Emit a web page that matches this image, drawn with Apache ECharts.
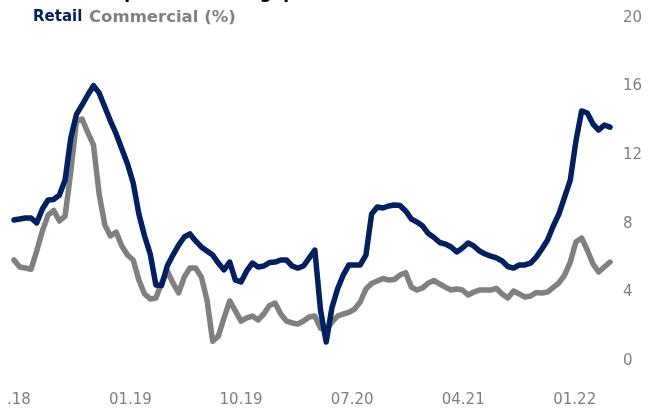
<!DOCTYPE html>
<html>
<head>
<meta charset="utf-8">
<script src="https://cdn.jsdelivr.net/npm/echarts@6/dist/echarts.min.js"></script>
<style>
  html, body { margin: 0; padding: 0; background: #ffffff; }
  #chart { width: 656px; height: 411px; }
</style>
</head>
<body>
<div id="chart"></div>
<script>
// Credit-deposit interest gap, fortnightly observations, percentage points
const titleText = 'Credit-Deposit interest gap widened';
const retailName = 'Retail';
const commercialName = 'Commercial (%)';

// first observation date and spacing between observations
const firstObservation = '2018-03-20';
const observationStepDays = 14;

const retailValues = [
  8.22, 8.28, 8.34, 8.34, 8.05, 8.86, 9.39, 9.42, 9.68, 10.55,
  13.0, 14.38, 14.93, 15.51, 16.06, 15.63, 14.81, 13.99, 13.24, 12.36,
  11.49, 10.38, 8.57, 7.29, 6.24, 4.43, 4.4, 5.54, 6.18, 6.76,
  7.23, 7.41, 7.0, 6.65, 6.41, 6.18, 5.71, 5.31, 5.77, 4.72,
  4.61, 5.25, 5.71, 5.48, 5.54, 5.74, 5.77, 5.89, 5.89, 5.54,
  5.42, 5.54, 6.0, 6.47, 2.97, 1.11, 3.09, 4.2, 5.01, 5.6,
  5.6, 5.6, 6.18, 8.57, 8.98, 8.92, 9.04, 9.1, 9.07, 8.75,
  8.28, 8.1, 7.87, 7.43, 7.2, 6.91, 6.82, 6.65, 6.36, 6.59,
  6.88, 6.71, 6.41, 6.24, 6.12, 6.01, 5.83, 5.51, 5.42, 5.6,
  5.6, 5.71, 6.06, 6.53, 7.06, 7.87, 8.57, 9.56, 10.55, 12.83,
  14.58, 14.46, 13.82, 13.47, 13.76, 13.64
];

const commercialValues = [
  5.89, 5.48, 5.42, 5.35, 6.41, 7.58, 8.51, 8.78, 8.16, 8.45,
  11.02, 13.99, 14.11, 13.32, 12.6, 9.74, 7.93, 7.29, 7.52, 6.71,
  6.18, 5.89, 4.72, 3.91, 3.62, 3.67, 4.55, 5.25, 4.55, 3.97,
  4.9, 5.42, 5.42, 4.9, 3.56, 1.15, 1.45, 2.51, 3.5, 2.92,
  2.33, 2.51, 2.62, 2.39, 2.74, 3.24, 3.38, 2.74, 2.33, 2.22,
  2.16, 2.33, 2.57, 2.62, 1.92, 1.81, 2.27, 2.62, 2.74, 2.83,
  3.03, 3.44, 4.2, 4.52, 4.66, 4.81, 4.72, 4.75, 5.01, 5.15,
  4.31, 4.14, 4.26, 4.55, 4.69, 4.49, 4.31, 4.14, 4.2, 4.14,
  3.85, 4.02, 4.14, 4.14, 4.14, 4.23, 3.91, 3.67, 4.08, 3.91,
  3.73, 3.79, 3.99, 3.97, 4.02, 4.29, 4.55, 5.01, 5.77, 6.94,
  7.17, 6.47, 5.66, 5.19, 5.48, 5.77
];

// x-axis tick positions and their labels
const xTickDates = ['2018-04-01', '2019-01-01', '2019-10-01', '2020-07-01', '2021-04-01', '2022-01-01'];
const xTickLabels = ['.18', '01.19', '10.19', '07.20', '04.21', '01.22'];

// y-axis range
const yMin = 0;
const yMax = 20;
const yStep = 4;

// days elapsed since the first observation
function dayOffset(s) {
  const a = s.split('-').map(Number);
  const b = firstObservation.split('-').map(Number);
  return Math.round((Date.UTC(a[0], a[1] - 1, a[2]) - Date.UTC(b[0], b[1] - 1, b[2])) / 86400000);
}

const observationDays = retailValues.map((v, i) => i * observationStepDays);
const lastDay = observationDays[observationDays.length - 1];
const xTickDays = xTickDates.map(dayOffset);
const retailData = observationDays.map((d, i) => [d, retailValues[i]]);
const commercialData = observationDays.map((d, i) => [d, commercialValues[i]]);

const navy = '#002060';
const grey = '#808080';
const axisGrey = '#7f7f7f';
const fontFamily = '"DejaVu Sans", Verdana, sans-serif';

const chart = echarts.init(document.getElementById('chart'), null, { renderer: 'canvas' });

chart.setOption({
  animation: false,
  backgroundColor: '#ffffff',
  grid: { left: 14, right: 46, top: 18, bottom: 50, containLabel: false },
  graphic: [
    {
      type: 'text', left: 33, top: -15,
      style: { text: titleText, fill: '#000000', font: 'bold 17px ' + fontFamily }
    },
    {
      type: 'text', left: 33, top: 10,
      style: { text: retailName, fill: navy, font: 'bold 15px ' + fontFamily }
    },
    {
      type: 'text', left: 89, top: 9,
      style: { text: commercialName, fill: grey, font: 'bold 16.5px ' + fontFamily }
    }
  ],
  xAxis: {
    type: 'value',
    min: 0,
    max: lastDay,
    axisLine: { show: false },
    axisTick: { show: false },
    splitLine: { show: false },
    axisLabel: {
      customValues: xTickDays,
      margin: 32,
      color: axisGrey,
      fontSize: 15,
      fontFamily: fontFamily,
      formatter: function (value) {
        const i = xTickDays.indexOf(value);
        return i >= 0 ? xTickLabels[i] : '';
      }
    }
  },
  yAxis: {
    type: 'value',
    position: 'right',
    min: yMin,
    max: yMax,
    interval: yStep,
    axisLine: { show: false },
    axisTick: { show: false },
    splitLine: { show: false },
    axisLabel: { margin: 13, color: axisGrey, fontSize: 15, fontFamily: fontFamily }
  },
  series: [
    {
      name: commercialName,
      type: 'line',
      data: commercialData,
      showSymbol: false,
      symbol: 'none',
      lineStyle: { color: grey, width: 5.5, cap: 'round', join: 'round' },
      z: 2
    },
    {
      name: retailName,
      type: 'line',
      data: retailData,
      showSymbol: false,
      symbol: 'none',
      lineStyle: { color: navy, width: 5.5, cap: 'round', join: 'round' },
      z: 3
    }
  ]
});
</script>
</body>
</html>
